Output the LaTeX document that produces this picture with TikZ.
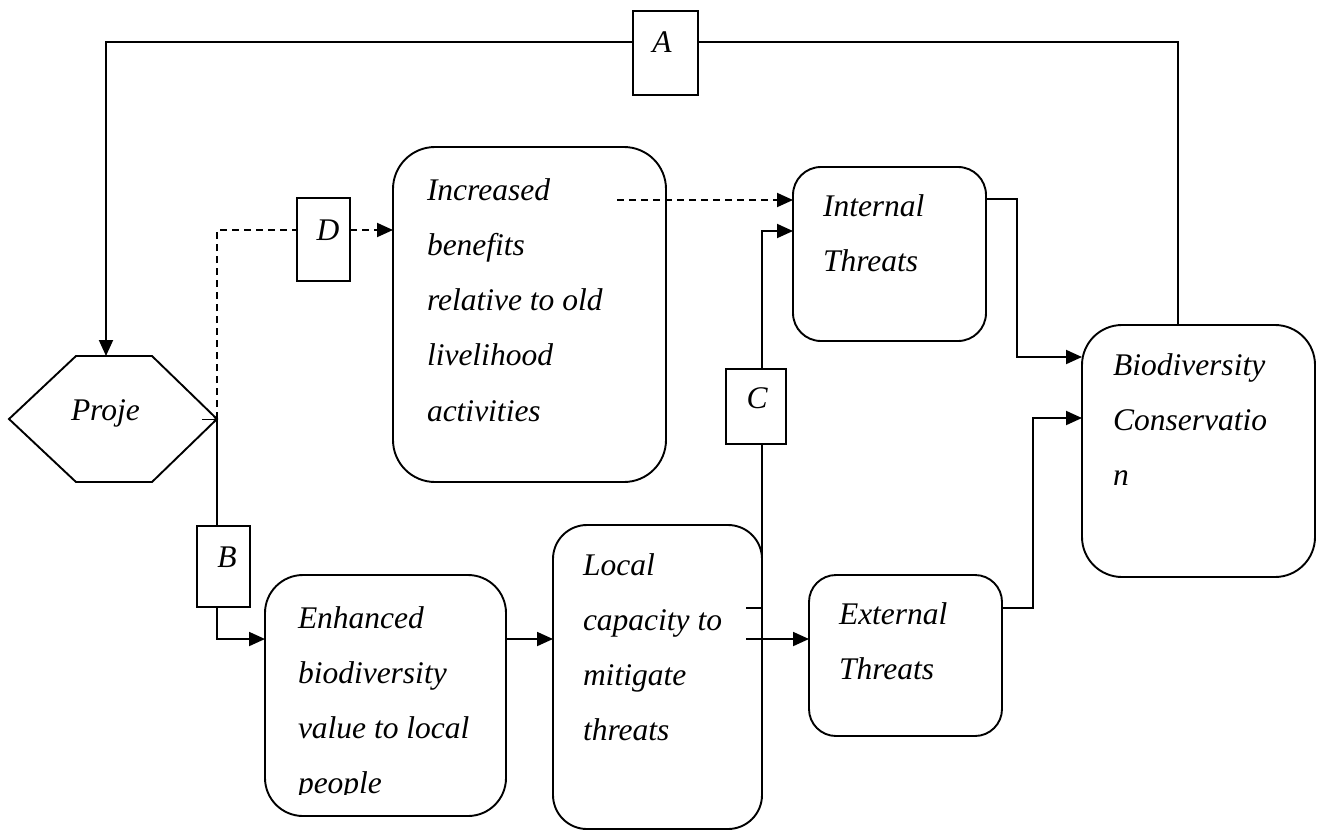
\documentclass[tikz,border=0pt]{standalone}
\usepackage{fontspec}
\setmainfont{Liberation Serif}
\usetikzlibrary{arrows.meta}
\tikzset{
  lw/.style={line width=1.9pt},
  rbox/.style={draw, lw, fill=white, inner sep=0pt, outer sep=0pt},
  sbox/.style={draw, lw, fill=white, inner sep=0pt, outer sep=0pt},
  conn/.style={lw},
  dashline/.style={lw, dash pattern=on 7pt off 5pt},
  arr/.style={-{Triangle[length=16pt,width=14pt]}},
  txt/.style={inner sep=0pt, outer sep=0pt, anchor=north west, align=left,
    font=\itshape\fontsize{31.5pt}{55.3pt}\selectfont},
  lbl/.style={inner sep=0pt, outer sep=0pt, font=\itshape\fontsize{31.5pt}{55.3pt}\selectfont}
}
\begin{document}
\begin{tikzpicture}[x=1pt,y=-1pt]
\useasboundingbox (0,0) rectangle (1317,831);

% hexagon (project)
\draw[lw] (9,419) -- (76,356) -- (152,356) -- (217,419) -- (152,482) -- (76,482) -- cycle;
\coordinate (hexE) at (217,419);
\coordinate (hexN) at (106,356);
\node[lbl, anchor=base west] (tproj) at (71,420) {Proje};

% rounded boxes
\node[rbox, rounded corners=42pt, minimum width=273pt, minimum height=335pt] (inc) at (529.5,314.5) {};
\node[rbox, rounded corners=38pt, minimum width=241pt, minimum height=241pt] (enh) at (385.5,695.5) {};
\node[rbox, rounded corners=34pt, minimum width=209pt, minimum height=304pt] (loc) at (657.5,677) {};
\node[rbox, rounded corners=28pt, minimum width=193pt, minimum height=174pt] (int) at (889.5,254) {};
\node[rbox, rounded corners=27pt, minimum width=193pt, minimum height=161pt] (ext) at (905.5,655.5) {};
\node[rbox, rounded corners=40pt, minimum width=233pt, minimum height=252pt] (bio) at (1198.5,451) {};

% texts in boxes
\node[txt] (tinc) at (427,161.3) {\strut Increased\\benefits\\relative to old\\livelihood\\activities};
\begin{scope}
\clip (265,575) rectangle (506,794);
\node[txt] (tenh) at (298,589.3) {\strut Enhanced\\biodiversity\\value to local\\people};
\end{scope}
\node[txt] (tloc) at (583,536.3) {\strut Local\\capacity to\\mitigate\\threats};
\node[txt] (tint) at (823,177.3) {\strut Internal\\Threats};
\node[txt] (text) at (839,585.3) {\strut External\\Threats};
\node[txt] (tbio) at (1113,336.3) {\strut Biodiversity\\Conservatio\\n};

% label boxes
\node[sbox, minimum width=65pt, minimum height=84pt] (abox) at (665.5,53) {};
\node[sbox, minimum width=53pt, minimum height=81pt] (bbox) at (223.5,566.5) {};
\node[sbox, minimum width=60pt, minimum height=75pt] (cbox) at (756,406.5) {};
\node[sbox, minimum width=53pt, minimum height=83pt] (dbox) at (323.5,239.5) {};
\node[lbl, anchor=base] (la) at (662,52) {A};
\node[lbl, anchor=base] (lb) at (227,567) {B};
\node[lbl, anchor=base] (lc) at (757,408) {C};
\node[lbl, anchor=base] (ld) at (328,240) {D};

% A loop
\draw[conn] (bio.north -| 1178,0) -- (1178,42) -- (abox.east |- 0,42);
\draw[conn, arr] (abox.west |- 0,42) -- (106,42) -- (hexN);

% small tick at hexagon point
\draw[line width=1pt, -{To[length=4pt,width=7pt]}] (202,419) -- (hexE);

% B path
\draw[conn] (hexE) -- (hexE |- bbox.north);
\draw[conn, arr] (hexE |- bbox.south) -- (217,639) -- (enh.west |- 0,639);

% D path
\draw[dashline] (hexE) -- (217,230) -- (dbox.west |- 0,230);
\draw[dashline, arr] (dbox.east |- 0,230) -- (inc.west |- 0,230);

% Increased -> Internal (dashed)
\coordinate (incout) at (617,200);
\draw[dashline, arr] (incout) -- (int.west |- 0,200);

% Enhanced -> Local
\draw[conn, arr] (enh.east |- 0,639) -- (loc.west |- 0,639);

% Local -> External
\coordinate (locout) at (746,639);
\draw[conn, arr] (locout) -- (ext.west |- 0,639);

% Local -> C -> Internal
\coordinate (loctick) at (746,608);
\draw[conn] (loctick) -- (762,608) -- (cbox.south -| 762,0);
\draw[conn, arr] (cbox.north -| 762,0) -- (762,231) -- (int.west |- 0,231);

% Internal -> Biodiversity
\draw[conn, arr] (int.east |- 0,199) -- (1017,199) -- (1017,357) -- (bio.west |- 0,357);

% External -> Biodiversity
\draw[conn, arr] (ext.east |- 0,608) -- (1033,608) -- (1033,418) -- (bio.west |- 0,418);
\end{tikzpicture}
\end{document}
